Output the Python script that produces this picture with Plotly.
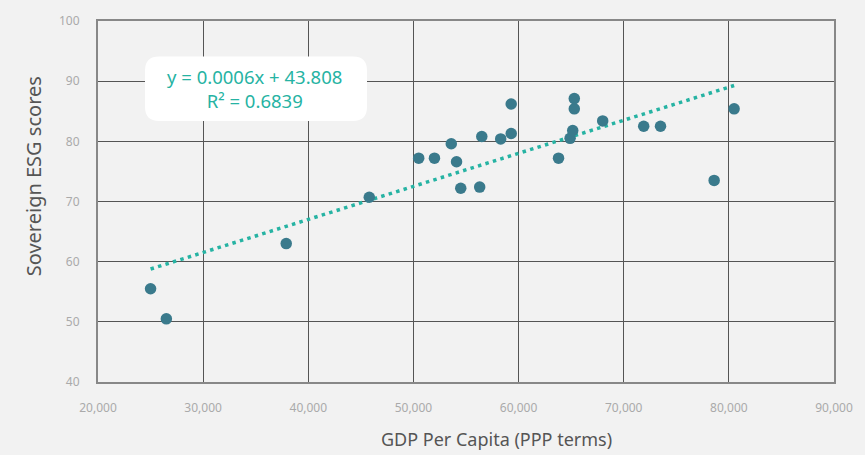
import numpy as np
import plotly.graph_objects as go

# Data
gdp = [25000, 26500, 37900, 45800, 50500, 52000, 53600, 54100, 54500, 56300,
       56500, 58300, 59300, 59300, 63800, 64900, 65150, 65300, 65300, 68000,
       71900, 73500, 78600, 80500]
esg = [55.5, 50.5, 63.0, 70.7, 77.2, 77.2, 79.6, 76.6, 72.2, 72.4,
       80.8, 80.4, 81.3, 86.2, 77.2, 80.5, 81.8, 85.4, 87.1, 83.4,
       82.5, 82.5, 73.5, 85.4]
x_ticks = [20000, 30000, 40000, 50000, 60000, 70000, 80000, 90000]
x_tick_labels = ["20,000", "30,000", "40,000", "50,000", "60,000", "70,000", "80,000", "90,000"]
y_ticks = [40, 50, 60, 70, 80, 90, 100]
eq_text = "y = 0.0006x + 43.808<br>R² = 0.6839"

# Linear trendline (least squares fit of the data)
slope, intercept = np.polyfit(gdp, esg, 1)
tx = [min(gdp), max(gdp)]
ty = [slope * v + intercept for v in tx]

BG = "#f2f2f2"
TEAL = "#26b3a3"
MARK = "#3a7a8c"

fig = go.Figure()
fig.add_trace(go.Scatter(x=tx, y=ty, mode="lines",
                         line=dict(color=TEAL, width=3.5, dash="3.5px,4.3px"),
                         hoverinfo="skip", showlegend=False))
fig.add_trace(go.Scatter(x=gdp, y=esg, mode="markers",
                         marker=dict(color=MARK, size=11.5, line=dict(width=0)),
                         showlegend=False))

L, R, T, B = 98, 31, 17, 73
W, H = 865, 455
pw, ph = W - L - R, H - T - B

def px_x(p):
    return (p - L) / pw

def px_y(p):
    return (H - B - p) / ph

# rounded box for the equation
x0, x1 = px_x(145), px_x(367)
y0, y1 = px_y(118), px_y(53)
rx, ry = 14 / pw, 14 / ph
path = (f"M {x0+rx},{y1} L {x1-rx},{y1} Q {x1},{y1} {x1},{y1-ry} "
        f"L {x1},{y0+ry} Q {x1},{y0} {x1-rx},{y0} L {x0+rx},{y0} "
        f"Q {x0},{y0} {x0},{y0+ry} L {x0},{y1-ry} Q {x0},{y1} {x0+rx},{y1} Z")
fig.add_shape(type="path", path=path, xref="paper", yref="paper",
              fillcolor="white", line=dict(width=0), layer="above")

fig.add_annotation(x=px_x(254), y=px_y(85), xref="paper", yref="paper",
                   xanchor="center", yanchor="middle",
                   text=eq_text, showarrow=False,
                   font=dict(family="Noto Sans", size=18.5, color=TEAL),
                   align="center")

fig.add_annotation(x=px_x(33), y=px_y(174), xref="paper", yref="paper",
                   xanchor="center", yanchor="middle",
                   text="Sovereign ESG scores", textangle=-90, showarrow=False,
                   font=dict(family="Noto Sans", size=20, color="#555555"))
fig.add_annotation(x=px_x(496), y=px_y(440), xref="paper", yref="paper",
                   xanchor="center", yanchor="middle",
                   text="GDP Per Capita (PPP terms)", showarrow=False,
                   font=dict(family="Noto Sans", size=18, color="#555555"))

axis_common = dict(showgrid=True, gridcolor="#555555", gridwidth=1.3,
                   showline=True, linecolor="#888888", linewidth=2, mirror=True,
                   zeroline=False, ticks="",
                   tickfont=dict(family="Noto Sans", size=12, color="#aaaaaa"))

fig.update_layout(
    width=W, height=H,
    margin=dict(l=L, r=R, t=T, b=B),
    paper_bgcolor=BG, plot_bgcolor=BG,
    xaxis=dict(range=[20000, 90000], tickvals=x_ticks, ticktext=x_tick_labels,
               ticklabelstandoff=14, **axis_common),
    yaxis=dict(range=[40, 100], tickvals=y_ticks, ticklabelstandoff=14,
               **axis_common),
    showlegend=False,
)

fig.write_html("out.html", config={"displayModeBar": False},
               post_script="document.body.style.margin='0';document.body.style.background='#f2f2f2';")
